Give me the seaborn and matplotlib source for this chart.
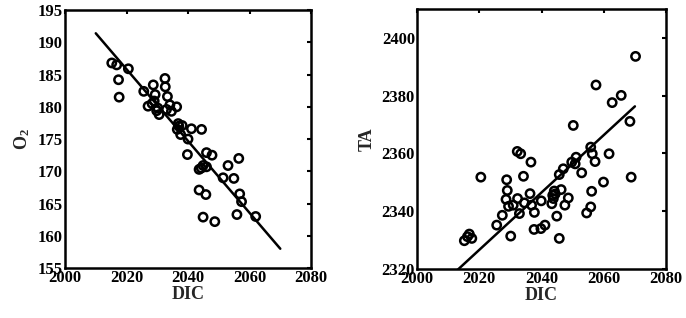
import numpy as np
import pandas as pd
import matplotlib
matplotlib.use("Agg")
import matplotlib.pyplot as plt
import seaborn as sns

# ---------------- data ----------------
dic_o2 = [2015.2, 2016.8, 2020.6, 2017.4, 2017.6, 2028.7, 2032.5, 2032.6, 2025.6, 2029.3,
          2033.3, 2027.0, 2029.0, 2029.8, 2030.6, 2033.0, 2034.6, 2036.3, 2034.1, 2036.8,
          2038.1, 2036.5, 2037.6, 2041.1, 2044.4, 2040.0, 2039.8, 2046.0, 2047.8, 2044.9,
          2043.6, 2046.0, 2053.0, 2056.5, 2051.4, 2054.9, 2043.6, 2045.8, 2056.8, 2057.4,
          2044.9, 2048.7, 2055.9, 2062.0, 2030.2, 2028.3, 2037.0, 2044.3]
o2 = [186.8, 186.5, 185.9, 184.2, 181.5, 183.4, 184.4, 183.1, 182.4, 181.9,
      181.6, 180.1, 180.9, 179.4, 178.8, 179.6, 179.3, 180.0, 180.3, 177.4,
      177.1, 176.5, 175.7, 176.6, 176.5, 175.0, 172.6, 172.9, 172.5, 170.9,
      170.3, 170.7, 170.9, 172.0, 169.0, 168.9, 167.1, 166.4, 166.5, 165.3,
      162.9, 162.2, 163.3, 163.0, 179.8, 180.5, 177.0, 170.5]

dic_ta = [2015.2, 2016.8, 2017.6, 2016.2, 2020.5, 2025.6, 2027.4, 2028.8, 2029.0, 2028.6,
          2029.4, 2030.1, 2030.9, 2032.3, 2032.2, 2033.3, 2032.9, 2034.2, 2034.5, 2036.3,
          2036.6, 2036.8, 2037.7, 2037.6, 2039.8, 2041.1, 2039.9, 2043.3, 2043.8, 2044.1,
          2044.9, 2045.7, 2045.7, 2046.3, 2047.0, 2047.5, 2048.6, 2049.7, 2050.2, 2050.8,
          2051.1, 2052.9, 2054.5, 2055.8, 2056.3, 2057.2, 2055.8, 2056.1, 2057.5, 2059.9,
          2061.7, 2062.7, 2065.6, 2068.4, 2068.8, 2070.2, 2043.6, 2044.4]
ta = [2329.8, 2332.1, 2330.6, 2331.2, 2351.8, 2335.2, 2338.6, 2350.9, 2347.2, 2344.1,
      2341.7, 2331.4, 2342.1, 2344.4, 2360.7, 2359.9, 2339.2, 2352.1, 2342.9, 2346.1,
      2357.0, 2342.1, 2339.6, 2333.7, 2334.0, 2335.2, 2343.6, 2342.6, 2344.4, 2347.0,
      2338.3, 2330.6, 2352.7, 2347.5, 2354.7, 2342.1, 2344.6, 2357.0, 2369.7, 2356.4,
      2358.7, 2353.3, 2339.4, 2362.2, 2359.9, 2357.2, 2341.5, 2346.9, 2383.7, 2350.1,
      2359.9, 2377.6, 2380.1, 2371.1, 2351.8, 2393.6, 2345.5, 2346.0]

fit_dic = [2010, 2070]
fit_o2 = [191.4, 158.0]
fit_ta = [2316.7, 2376.3]

x_ticks = [2000, 2020, 2040, 2060, 2080]
o2_ticks = [155, 160, 165, 170, 175, 180, 185, 190, 195]
ta_ticks = [2320, 2340, 2360, 2380, 2400]

# ---------------- style ----------------
sns.set_theme(style="white")
plt.rcParams["font.family"] = ["Liberation Serif", "DejaVu Serif"]
plt.rcParams["font.weight"] = "bold"
plt.rcParams["mathtext.fontset"] = "custom"
plt.rcParams["mathtext.rm"] = "Liberation Serif:bold"
plt.rcParams["mathtext.it"] = "Liberation Serif:bold"
plt.rcParams["mathtext.bf"] = "Liberation Serif:bold"
plt.rcParams["mathtext.default"] = "rm"

fig = plt.figure(figsize=(6.86, 3.18), dpi=100)
ax1 = fig.add_axes([0.0948, 0.157, 0.3586, 0.8113])
ax2 = fig.add_axes([0.6079, 0.154, 0.363, 0.8177])

df1 = pd.DataFrame({"DIC": dic_o2, "O2": o2})
df2 = pd.DataFrame({"DIC": dic_ta, "TA": ta})
fit1 = pd.DataFrame({"DIC": fit_dic, "O2": fit_o2})
fit2 = pd.DataFrame({"DIC": fit_dic, "TA": fit_ta})

for ax, df, fit, ycol, yticks, ylim, ylabel in [
    (ax1, df1, fit1, "O2", o2_ticks, (155, 195), r"O$_2$"),
    (ax2, df2, fit2, "TA", ta_ticks, (2320, 2410), "TA"),
]:
    sns.scatterplot(data=df, x="DIC", y=ycol, ax=ax, s=36, marker="o",
                    facecolor="none", edgecolor="black", linewidth=1.8, zorder=3)
    sns.lineplot(data=fit, x="DIC", y=ycol, ax=ax, color="black", linewidth=1.8, zorder=2)
    ax.set_xlim(2000, 2080)
    ax.set_ylim(*ylim)
    ax.set_xticks(x_ticks)
    ax.set_yticks(yticks)
    ax.set_xlabel("DIC", fontsize=13, fontweight="bold", labelpad=0)
    ax.set_ylabel(ylabel, fontsize=13, fontweight="bold", labelpad=4)
    ax.tick_params(direction="in", length=3, width=1.5, top=True, right=True,
                   labelsize=12, pad=1.5, colors="black")
    for lab in ax.get_xticklabels() + ax.get_yticklabels():
        lab.set_fontweight("bold")
    for sp in ax.spines.values():
        sp.set_linewidth(1.8)
        sp.set_color("black")
        sp.set_visible(True)

fig.savefig("out.png", dpi=100)
